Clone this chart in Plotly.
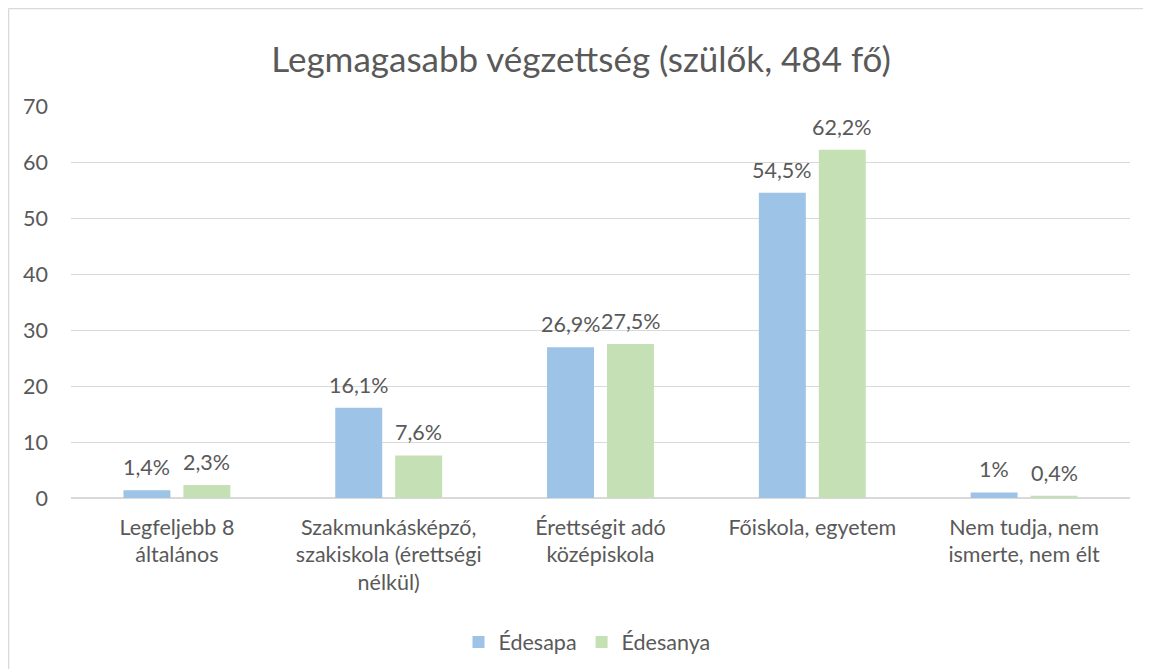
import plotly.graph_objects as go

categories = [
    "Legfeljebb 8<br>általános",
    "Szakmunkásképző,<br>szakiskola (érettségi<br>nélkül)",
    "Érettségit adó<br>középiskola",
    "Főiskola, egyetem",
    "Nem tudja, nem<br>ismerte, nem élt",
]
edesapa = [1.4, 16.1, 26.9, 54.5, 1.0]
edesanya = [2.3, 7.6, 27.5, 62.2, 0.4]
series_names = ["Édesapa", "Édesanya"]
y_ticks = [0, 10, 20, 30, 40, 50, 60, 70]
title_text = "Legmagasabb végzettség (szülők, 484 fő)"

colors = ["#9DC3E6", "#C5E0B4"]
FONT = "Lato, 'Open Sans', sans-serif"
TXT = "#595959"
FS = 21.5


def fmt(v):
    return f"{v:g}".replace(".", ",") + "%"


fig = go.Figure()
for name, vals, col in zip(series_names, [edesapa, edesanya], colors):
    fig.add_trace(go.Bar(name=name, x=categories, y=vals, marker_color=col,
                         marker_line_width=0, hoverinfo="skip"))

annotations = []
for k, vals in enumerate([edesapa, edesanya]):
    shift = -30 if k == 0 else 30
    for c, v in zip(categories, vals):
        annotations.append(dict(x=c, y=v, xref="x", yref="y", text=fmt(v),
                                showarrow=False, xshift=shift, yshift=8,
                                yanchor="bottom",
                                font=dict(family=FONT, size=FS, color=TXT)))

# page offset (default body margin 8px) compensated
OFF = 8
W, H = 1151 - OFF, 669 - OFF
ml, mt = 71 - OFF, 106 - OFF
mr = W - (1130 - OFF)
mb = H - (498 - OFF)
pw, ph = W - ml - mr, H - mt - mb


def px_x(p):  # page pixel -> paper
    return (p - OFF - ml) / pw


def px_y(p):
    return (H - mb - (p - OFF)) / ph


border = dict(color="#D9D9D9", width=1.5)

fig.update_layout(
    width=W, height=H,
    margin=dict(l=ml, r=mr, t=mt, b=mb, autoexpand=False),
    paper_bgcolor="white", plot_bgcolor="white",
    barmode="group", bargap=0.434, bargroupgap=0.217,
    title=dict(text=title_text, x=(581 - OFF) / W, xref="container", xanchor="center",
               y=1 - (60 - OFF) / H, yref="container", yanchor="middle",
               font=dict(family=FONT, size=35, color=TXT)),
    font=dict(family=FONT, size=FS, color=TXT),
    xaxis=dict(showgrid=False, showline=False, ticks="", zeroline=False,
               tickfont=dict(family=FONT, size=FS, color=TXT), automargin=False,
               ticklabelstandoff=14, fixedrange=True),
    yaxis=dict(range=[0, 70], tickvals=y_ticks, showgrid=True,
               gridcolor="#D9D9D9", gridwidth=1, zeroline=True,
               zerolinecolor="#D9D9D9", zerolinewidth=1.5, showline=False,
               ticks="", ticklabelstandoff=22, automargin=False,
               tickfont=dict(family=FONT, size=FS, color=TXT), fixedrange=True),
    legend=dict(orientation="h", x=(587 - OFF) / W, xref="container", xanchor="center",
                y=1 - (642 - OFF) / H, yref="container", yanchor="middle",
                font=dict(family=FONT, size=FS, color=TXT),
                itemclick=False, itemdoubleclick=False),
    annotations=annotations,
    shapes=[
        dict(type="line", xref="paper", yref="paper",
             x0=px_x(8.5), x1=px_x(1200), y0=px_y(8.5), y1=px_y(8.5),
             line=border, layer="below"),
        dict(type="line", xref="paper", yref="paper",
             x0=px_x(8.5), x1=px_x(8.5), y0=px_y(8.5), y1=px_y(720),
             line=border, layer="below"),
    ],
)

fig.write_html("out.html")
